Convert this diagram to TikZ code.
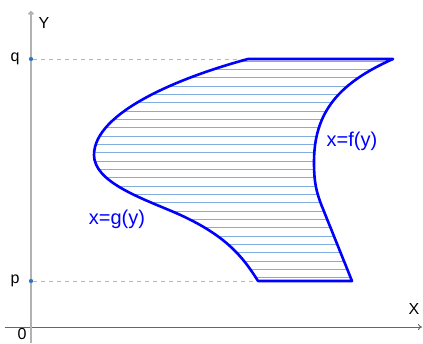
\documentclass[tikz,border=0pt]{standalone}
\usepackage{fontspec}
\setmainfont{Liberation Sans}
\usetikzlibrary{arrows.meta}
\definecolor{hatchblue}{RGB}{128,172,222}
\definecolor{guideblue}{RGB}{150,190,230}
\definecolor{dotblue}{RGB}{45,115,200}

\begin{document}
\begin{tikzpicture}[x=1pt, y=1pt,
   axis/.style={-{To[length=4pt, width=6pt]}},
   guide/.style={dashed, dash pattern=on 4pt off 4pt, color=guideblue, line width=0.8pt},
   dotmark/.style={circle, fill=dotblue, inner sep=0pt, minimum size=4pt},
   edgeline/.style={draw=blue, line width=2.6pt, line join=round},
   lbl/.style={font=\fontsize{16}{18}\selectfont, inner sep=0pt},
   fn/.style={font=\fontsize{20}{22}\selectfont, text=blue, inner sep=0pt}]
  \useasboundingbox (-31,-16) rectangle (392,327);
  \coordinate (O) at (0,0);
  \coordinate (A) at (217,268);
  \coordinate (B) at (362,268);
  \coordinate (C) at (321,46);
  \coordinate (D) at (227,46);
  \coordinate (G) at (63,172);
  \coordinate (M) at (145,114);
  \node[dotmark] (q) at (0,268) {};
  \node[dotmark] (p) at (0,46) {};
  \draw[guide] (q) -- (A);
  \draw[guide] (p) -- (D);
  \begin{scope}
    \clip (A) -- (B) .. controls (308,244) and (283,215) .. (283,165)
      .. controls (283,145) and (285,135) .. (292,118) -- (C) -- (D)
      .. controls (212,70) and (195,92) .. (M)
      .. controls (110,129) and (63,145) .. (G)
      .. controls (63,215) and (150,250) .. (A) -- cycle;
    \foreach \h in {0,...,26}
      \draw[color=hatchblue, line width=1pt] (40,49.3+8.33*\h) -- (380,49.3+8.33*\h);
  \end{scope}
  \draw[edgeline] (A) -- (B) .. controls (308,244) and (283,215) .. (283,165)
      .. controls (283,145) and (285,135) .. (292,118) -- (C) -- (D)
      .. controls (212,70) and (195,92) .. (M)
      .. controls (110,129) and (63,145) .. (G)
      .. controls (63,215) and (150,250) .. (A) -- cycle;
  \coordinate (xa) at (-26,0);
  \coordinate (xb) at (391,0);
  \coordinate (ya) at (0,-16);
  \coordinate (yb) at (0,316);
  \draw[axis, color=black!60, line width=0.9pt] (xa) -- (xb);
  \draw[axis, color=black!30, line width=1.8pt] (ya) -- (yb);
  \node[dotmark] at (q) {};
  \node[dotmark] at (p) {};
  \node[lbl] (ylab) at (13,304) {Y};
  \node[lbl] (xlab) at (383,18) {X};
  \node[lbl] (qlab) at (-16,268) {q};
  \node[lbl] (plab) at (-16,46) {p};
  \node[lbl] (zero) at (-9,-7) {0};
  \node[fn] (flab) at (321,186) {x=f(y)};
  \node[fn] (glab) at (86,108) {x=g(y)};
\end{tikzpicture}
\end{document}
